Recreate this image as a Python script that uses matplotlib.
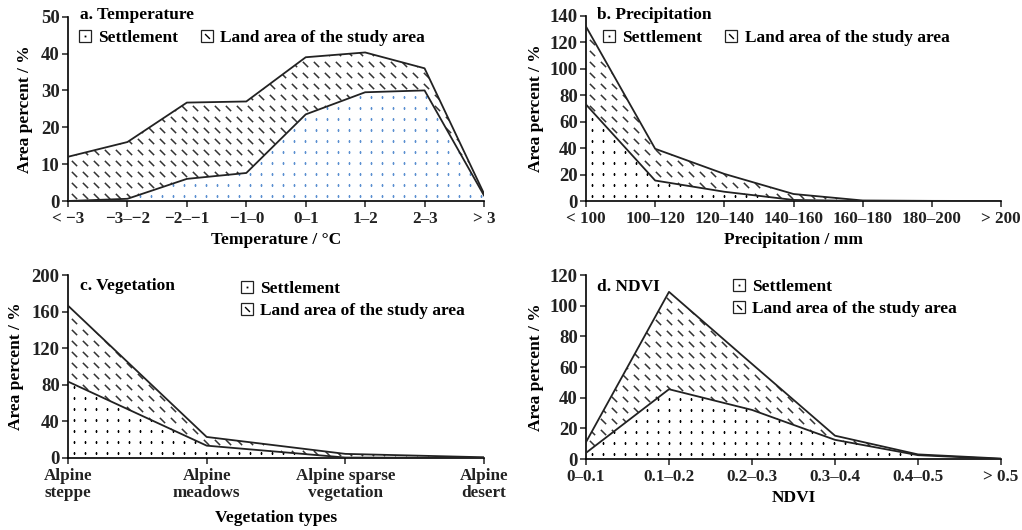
import numpy as np
import matplotlib.pyplot as plt
from matplotlib.path import Path
from matplotlib.lines import Line2D
from matplotlib.legend_handler import HandlerTuple

plt.rcParams['font.family'] = ['Liberation Serif', 'DejaVu Serif']
plt.rcParams['font.weight'] = 'bold'
plt.rcParams['font.size'] = 12
plt.rcParams['axes.labelweight'] = 'bold'
plt.rcParams['axes.linewidth'] = 1.2

# a. temperature
temp_cats = ['< \u22123', '\u22123\u2013\u22122', '\u22122\u2013\u22121', '\u22121\u20130',
             '0\u20131', '1\u20132', '2\u20133', '> 3']
temp_settle = [0, 0.6, 6, 7.6, 23.5, 29.5, 30, 1.5]
temp_land = [12, 15.4, 20.7, 19.4, 15.5, 10.8, 6, 0.5]

# b. precipitation
prec_cats = ['< 100', '100\u2013120', '120\u2013140', '140\u2013160', '160\u2013180',
             '180\u2013200', '> 200']
prec_settle = [73, 15.5, 7, 0.8, 0, 0, 0]
prec_land = [59, 24, 13.5, 4.5, 0.4, 0.1, 0]

# c. vegetation
veg_cats = ['Alpine\nsteppe', 'Alpine\nmeadows', 'Alpine sparse\nvegetation', 'Alpine\ndesert']
veg_settle = [83.5, 13.5, 0.5, 0.2]
veg_land = [83, 9.5, 4, 0.6]

# d. NDVI
ndvi_cats = ['0\u20130.1', '0.1\u20130.2', '0.2\u20130.3', '0.3\u20130.4', '0.4\u20130.5', '> 0.5']
ndvi_settle = [4, 45.5, 32, 12.5, 2.5, 0]
ndvi_land = [7, 63.5, 30, 2.7, 0.5, 0.3]

W, H = 1022, 530
fig = plt.figure(figsize=(W / 100, H / 100), dpi=100)

dash = Path([(-1, 1), (1, -1)], [Path.MOVETO, Path.LINETO])


def px(x, y):
    return x / W, 1 - y / H


def texture(ax, coll, marker, color, ms, mew, step=(11, 11)):
    pos = ax.get_position()
    w, h = pos.width * W, pos.height * H
    gx, gy = np.meshgrid(np.arange(step[0] / 2, w, step[0]) / w,
                         np.arange(step[1] / 2, h, step[1]) / h)
    ln, = ax.plot(gx.ravel(), gy.ravel(), ls='none', marker=marker, ms=ms, mew=mew,
                  mec=color, mfc=color, transform=ax.transAxes, zorder=2)
    ln.set_clip_path(coll.get_paths()[0], ax.transData)


def panel(rect, cats, settle, land, ylim, ystep, title, title_xy, xlabel, xlabel_y,
          ylabel_x, leg_xy, leg_cols, dot_color='black'):
    ax = fig.add_axes(rect)
    x = np.arange(len(cats))
    s = np.array(settle, float)
    top = s + np.array(land, float)
    c1 = ax.fill_between(x, 0, s, facecolor='white', edgecolor='none', zorder=1)
    c2 = ax.fill_between(x, s, top, facecolor='white', edgecolor='none', zorder=1)
    texture(ax, c1, 's', dot_color, 1.3, 0)
    texture(ax, c2, dash, '#333333', 3.8, 1.1)
    ax.plot(x, s, color='#222222', lw=1.3, zorder=3)
    ax.plot(x, top, color='#222222', lw=1.3, zorder=3)
    ax.set_xlim(0, len(cats) - 1)
    ax.set_ylim(*ylim)
    ax.set_yticks(np.arange(ylim[0], ylim[1] + 1, ystep))
    ax.set_xticks(x)
    ax.set_xticklabels(cats, linespacing=1.1)
    ax.tick_params(axis='both', direction='out', length=4, width=1.1, colors='#222222', pad=2)
    ax.tick_params(axis='x', pad=3, labelsize=12.3)
    ax.tick_params(axis='y', labelsize=13.5)
    for side in ['top', 'right']:
        ax.spines[side].set_visible(False)
    ax.set_xlabel(xlabel, fontsize=12.5)
    ax.set_ylabel('Area percent / %', fontsize=12.5)
    ax.xaxis.label.set_va('center')
    ax.yaxis.label.set_va('center')
    ax.yaxis.set_label_coords(ylabel_x / W, rect[1] + rect[3] / 2, transform=fig.transFigure)
    ax.xaxis.set_label_coords(rect[0] + rect[2] / 2, 1 - xlabel_y / H, transform=fig.transFigure)
    fig.text(*px(*title_xy), title, va='center', ha='left', fontsize=12.5)

    sq = dict(ls='none', marker='s', ms=8, mfc='white', mec='#222222', mew=0.9)
    h1 = (Line2D([], [], **sq), Line2D([], [], ls='none', marker='s', ms=1.3, mew=0, mfc='k'))
    h2 = (Line2D([], [], **sq), Line2D([], [], ls='none', marker=dash, ms=3.5, mew=1, mec='k'))
    ax.legend([h1, h2], ['Settlement', 'Land area of the study area'],
              handler_map={tuple: HandlerTuple(ndivide=1)}, ncol=leg_cols,
              loc='center left', bbox_to_anchor=px(*leg_xy), bbox_transform=fig.transFigure,
              frameon=False, borderpad=0, borderaxespad=0, handlelength=0.8,
              handletextpad=0.35, columnspacing=1.3, labelspacing=0.3, fontsize=12.5)
    return ax


panel([68 / W, 1 - 201 / H, 416 / W, 184.3 / H], temp_cats, temp_settle, temp_land,
      (0, 50), 10, 'a. Temperature', (80, 15), 'Temperature / \u00b0C', 240, 25,
      (78, 38), 2, dot_color='#5b8fd0')
panel([586 / W, 1 - 201 / H, 415 / W, 185 / H], prec_cats, prec_settle, prec_land,
      (0, 140), 20, 'b. Precipitation', (597, 15), 'Precipitation / mm', 240, 536,
      (602, 38), 2)
panel([68 / W, 1 - 458 / H, 416 / W, 183 / H], veg_cats, veg_settle, veg_land,
      (0, 200), 40, 'c. Vegetation', (80, 286), 'Vegetation types', 518, 16,
      (240, 300), 1)
panel([586 / W, 1 - 459 / H, 415 / W, 184 / H], ndvi_cats, ndvi_settle, ndvi_land,
      (0, 120), 20, 'd. NDVI', (597, 287), 'NDVI', 498, 536,
      (732, 298), 1)

fig.savefig('out.png', dpi=100)
